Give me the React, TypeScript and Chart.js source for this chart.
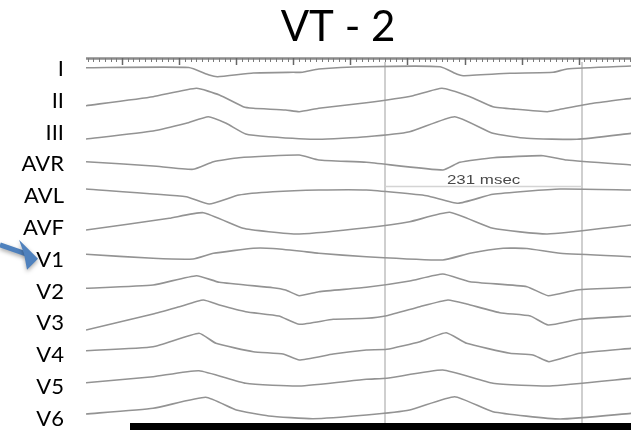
import { useEffect, useRef } from 'react';
import { Chart, registerables } from 'chart.js';

Chart.register(...registerables);

// ---- recording content ----
const TITLE = 'VT - 2';
const LEADS = ['I', 'II', 'III', 'AVR', 'AVL', 'AVF', 'V1', 'V2', 'V3', 'V4', 'V5', 'V6'];

// sample times (ms) and deflections (display units) for each lead
const LEAD_I_MS = [0, 121, 145, 155, 197, 244, 255, 274, 330, 417, 437, 444, 499, 550, 566, 642];
const LEAD_I_AMP = [0.3, 0.5, -7, -8.7, -5, -4.3, -4.3, -1, 1.3, 1.3, -6.3, -7.7, -5.3, -4.3, -1, 2];

const LEAD_II_MS = [0, 79, 130, 157, 185, 197, 235, 251, 274, 330, 385, 419, 452, 479, 507, 543, 557, 597, 642];
const LEAD_II_AMP = [-5.9, 3.1, 11.5, 4.8, -6.9, -8.5, -10.2, -11.9, -8.5, -2.9, 4.1, 11.5, 3.1, -6.9, -9.5, -11.9, -9.7, -3.5, 1.5];

const LEAD_III_MS = [0, 79, 118, 144, 165, 188, 215, 274, 330, 381, 434, 479, 519, 578, 642];
const LEAD_III_AMP = [-7.4, 0.6, 8.3, 14.9, 8.3, -2.4, -5.1, -7.7, -5.1, -0.1, 14.9, -1.7, -6.7, -7.7, -1.7];

const LEAD_AVR_MS = [0, 79, 126, 150, 180, 251, 274, 330, 420, 440, 479, 538, 566, 642];
const LEAD_AVR_AMP = [1.7, -2.6, -5.9, 1.7, 5.7, 8.4, 3.4, 1.1, -6.6, 1.1, 5.7, 7.7, 3.4, -1.6];

const LEAD_AVL_MS = [0, 118, 145, 180, 220, 274, 330, 401, 438, 479, 558, 642];
const LEAD_AVL_AMP = [6.2, -1.5, -8.8, 0.2, 3.5, 5.2, 5.2, -0.5, -8.1, 0.9, 6.2, 5.2];

const LEAD_AVF_MS = [0, 98, 138, 185, 215, 251, 330, 381, 428, 479, 543, 642];
const LEAD_AVF_AMP = [-3, 8.7, 14.3, -1.3, -4.7, -7, -0.7, 5.3, 14.7, -1.3, -7, 2];

const LEAD_V1_MS = [0, 79, 126, 150, 197, 220, 251, 274, 330, 420, 452, 491, 519, 558, 642];
const LEAD_V1_AMP = [4.5, 0.5, -0.2, 5.5, 10.5, 10.3, 7.8, 5.5, 2.1, -1.2, 5.5, 10.5, 10.3, 5.5, 2.1];

const LEAD_V2_MS = [0, 79, 130, 157, 220, 235, 251, 274, 330, 381, 420, 452, 519, 544, 578, 642];
const LEAD_V2_AMP = [2.3, 5.6, 14.9, 8.3, 2.9, 0.6, -5.1, -1.1, 3.3, 9.6, 16.6, 8.9, 3.9, -5.1, 0.6, 3.3];

const LEAD_V3_MS = [0, 79, 110, 138, 157, 188, 227, 251, 291, 330, 354, 393, 426, 448, 487, 523, 544, 581, 642];
const LEAD_V3_AMP = [-7.6, 8.4, 15.7, 22.4, 17.4, 10.7, 6.4, -1.9, 3.1, 4.1, 6.7, 15.7, 22.4, 18.4, 9.7, 6.4, -2.6, 3.1, 6.4];

const LEAD_V4_MS = [0, 79, 133, 153, 197, 232, 251, 291, 330, 354, 393, 424, 448, 499, 526, 545, 581, 642];
const LEAD_V4_AMP = [3.5, 7.5, 20.9, 10.9, 2.5, 0.2, -5.8, 0.2, 4.2, 4.9, 12.5, 21.5, 10.9, 0.9, -0.8, -7.5, 0.9, 5.9];

const LEAD_V5_MS = [0, 79, 133, 188, 251, 330, 354, 420, 479, 546, 642];
const LEAD_V5_AMP = [3.3, 9.3, 15.3, 2.7, 0, 6.7, 7.7, 16, 2.7, 0, 7.7];

const LEAD_V6_MS = [0, 79, 141, 177, 215, 267, 330, 381, 434, 479, 558, 642];
const LEAD_V6_AMP = [3.8, 9.5, 20.5, 7.8, 1.8, -0.9, 2.8, 7.8, 21.1, 6.1, -1.2, 4.5];

const LEAD_TIMES = [LEAD_I_MS, LEAD_II_MS, LEAD_III_MS, LEAD_AVR_MS, LEAD_AVL_MS, LEAD_AVF_MS,
  LEAD_V1_MS, LEAD_V2_MS, LEAD_V3_MS, LEAD_V4_MS, LEAD_V5_MS, LEAD_V6_MS];
const LEAD_AMPS = [LEAD_I_AMP, LEAD_II_AMP, LEAD_III_AMP, LEAD_AVR_AMP, LEAD_AVL_AMP, LEAD_AVF_AMP,
  LEAD_V1_AMP, LEAD_V2_AMP, LEAD_V3_AMP, LEAD_V4_AMP, LEAD_V5_AMP, LEAD_V6_AMP];

// caliper measurement
const CALIPER_START_MS = 352.5;
const CALIPER_INTERVAL_MS = 231;
const CALIPER_LEVEL = -118.5;

// time ruler along the top edge
const RULER_FIRST_MAJOR_MS = 42.4;
const RULER_MAJOR_MS = 67.2;
const RULER_MINOR_PER_MAJOR = 10;

// axis settings
const TIME_MAX_MS = 641.5;
const ROW_GAP = 31.8;
const Y_MAX = 11;
const Y_MIN = -355;

const FONT = 'Lato, "Open Sans", sans-serif';
const TRACE_COLOR = '#939393';

const rowOffset = (i: number) => -ROW_GAP * i;

const ecgDecor = {
  id: 'ecgDecor',
  beforeDatasetsDraw(chart: any) {
    const { ctx, chartArea, scales } = chart;
    const x = scales.x;
    const y = scales.y;
    const x0 = x.getPixelForValue(CALIPER_START_MS);
    const x1 = x.getPixelForValue(CALIPER_START_MS + CALIPER_INTERVAL_MS);
    ctx.save();
    ctx.strokeStyle = '#cfcfcf';
    ctx.lineWidth = 2;
    [x0, x1].forEach((px: number) => {
      ctx.beginPath();
      ctx.moveTo(Math.round(px), chartArea.top + 5);
      ctx.lineTo(Math.round(px), chartArea.bottom);
      ctx.stroke();
    });
    const ly = y.getPixelForValue(CALIPER_LEVEL);
    ctx.lineWidth = 1.5;
    ctx.strokeStyle = '#d4d4d4';
    ctx.beginPath();
    ctx.moveTo(x0, ly);
    ctx.lineTo(x1, ly);
    ctx.stroke();
    ctx.restore();
  },
  afterDraw(chart: any) {
    const { ctx, chartArea, scales } = chart;
    const x = scales.x;
    const y = scales.y;
    ctx.save();

    // ruler
    const top = chartArea.top;
    ctx.strokeStyle = '#8a8a8a';
    ctx.lineWidth = 2.5;
    ctx.beginPath();
    ctx.moveTo(chartArea.left, top + 1.5);
    ctx.lineTo(chartArea.right, top + 1.5);
    ctx.stroke();
    const minor = RULER_MAJOR_MS / RULER_MINOR_PER_MAJOR;
    let k = -Math.floor(RULER_FIRST_MAJOR_MS / minor);
    for (;; k++) {
      const t = RULER_FIRST_MAJOR_MS + k * minor;
      if (t > TIME_MAX_MS) break;
      const px = Math.round(x.getPixelForValue(t)) + 0.5;
      const major = ((k % RULER_MINOR_PER_MAJOR) + RULER_MINOR_PER_MAJOR) % RULER_MINOR_PER_MAJOR === 0;
      ctx.strokeStyle = major ? '#666' : '#7a7a7a';
      ctx.lineWidth = major ? 1.5 : 1;
      ctx.beginPath();
      ctx.moveTo(px, top + 1);
      ctx.lineTo(px, top + (major ? 8 : 5));
      ctx.stroke();
    }

    // caliper text
    const cx = (x.getPixelForValue(CALIPER_START_MS) + x.getPixelForValue(CALIPER_START_MS + CALIPER_INTERVAL_MS)) / 2;
    const cy = y.getPixelForValue(CALIPER_LEVEL);
    ctx.save();
    ctx.translate(cx, cy - 3);
    ctx.scale(1.3, 1);
    ctx.fillStyle = '#4a4a4a';
    ctx.font = '13px "Liberation Sans", Arial, sans-serif';
    ctx.textAlign = 'center';
    ctx.textBaseline = 'alphabetic';
    ctx.fillText(`${CALIPER_INTERVAL_MS} msec`, 0, 0);
    ctx.restore();

    // lead labels
    ctx.fillStyle = '#000';
    ctx.font = `22px ${FONT}`;
    ctx.textAlign = 'right';
    ctx.textBaseline = 'middle';
    LEADS.forEach((name, i) => {
      ctx.fillText(name, 64, y.getPixelForValue(rowOffset(i)) + 1);
    });

    // title
    ctx.font = `42px ${FONT}`;
    ctx.textAlign = 'center';
    ctx.textBaseline = 'alphabetic';
    ctx.fillText(TITLE, 338, 41);

    // arrow pointing at V1
    const v1y = y.getPixelForValue(rowOffset(LEADS.indexOf('V1')));
    ctx.save();
    ctx.shadowColor = 'rgba(0,0,0,0.35)';
    ctx.shadowBlur = 4;
    ctx.shadowOffsetY = 2;
    ctx.strokeStyle = '#4f81bd';
    ctx.fillStyle = '#4f81bd';
    ctx.lineWidth = 5;
    ctx.beginPath();
    ctx.moveTo(0, v1y - 14);
    ctx.lineTo(26, v1y - 5);
    ctx.stroke();
    ctx.beginPath();
    ctx.moveTo(38, v1y);
    ctx.lineTo(19, v1y - 19);
    ctx.lineTo(24, v1y - 5);
    ctx.lineTo(27, v1y + 11);
    ctx.closePath();
    ctx.fill();
    ctx.restore();

    // black bar along the bottom
    ctx.fillStyle = '#000';
    ctx.fillRect(130, chartArea.bottom, chart.width - 130, chart.height - chartArea.bottom);

    ctx.restore();
  },
};

export default function App() {
  const canvasRef = useRef<HTMLCanvasElement | null>(null);

  useEffect(() => {
    if (!canvasRef.current) return;
    const datasets = LEADS.map((name, i) => ({
      label: name,
      data: LEAD_TIMES[i].map((t, k) => ({ x: t, y: rowOffset(i) + LEAD_AMPS[i][k] })),
      borderColor: TRACE_COLOR,
      borderWidth: 1.6,
      pointRadius: 0,
      tension: 0.15,
      fill: false,
    }));
    const chart = new Chart(canvasRef.current, {
      type: 'line',
      data: { datasets },
      options: {
        responsive: false,
        animation: false,
        layout: { padding: { left: 86, right: 0, top: 57, bottom: 7 } },
        plugins: {
          legend: { display: false },
          tooltip: { enabled: false },
          title: { display: false },
        },
        scales: {
          x: { type: 'linear', min: 0, max: TIME_MAX_MS, display: false },
          y: { type: 'linear', min: Y_MIN, max: Y_MAX, display: false },
        },
      },
      plugins: [ecgDecor],
    });
    return () => chart.destroy();
  }, []);

  return (
    <div style={{ position: 'absolute', left: 0, top: 0, width: 631, height: 430, background: '#fff' }}>
      <canvas ref={canvasRef} width={631} height={430} style={{ display: 'block' }} />
    </div>
  );
}
